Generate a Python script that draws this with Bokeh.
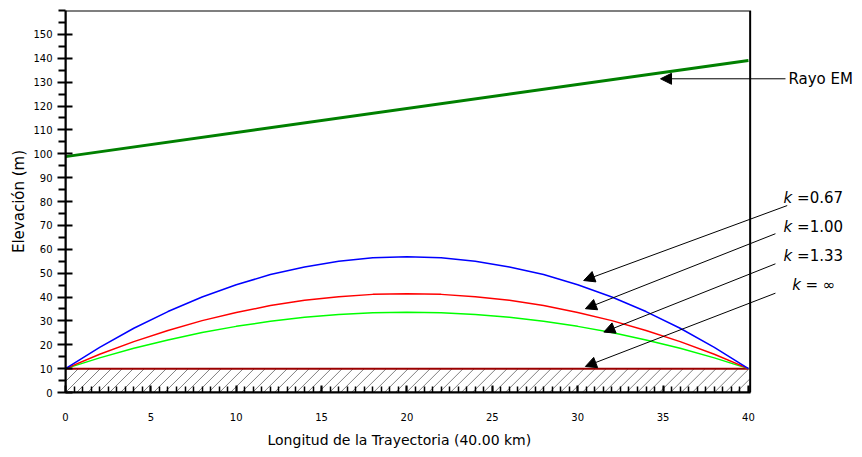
from bokeh.plotting import figure
from bokeh.models import (Range1d, FixedTicker, Label, Arrow, NormalHead,
                          BoxAnnotation, Title)
from bokeh.embed import file_html
from bokeh.resources import INLINE

# ---------------- data ----------------
dist_km = [0, 2, 4, 6, 8, 10, 12, 14, 16, 18, 20, 22, 24, 26, 28, 30, 32, 34, 36, 38, 40]
elev_k067 = [10.0, 18.9, 26.9, 33.9, 40.0, 45.1, 49.4, 52.6, 55.0, 56.4, 56.9,
             56.4, 55.0, 52.6, 49.4, 45.1, 40.0, 33.9, 26.9, 18.9, 10.0]
elev_k100 = [10.0, 16.0, 21.3, 26.0, 30.1, 33.5, 36.4, 38.6, 40.1, 41.1, 41.4,
             41.1, 40.1, 38.6, 36.4, 33.5, 30.1, 26.0, 21.3, 16.0, 10.0]
elev_k133 = [10.0, 14.5, 18.5, 22.0, 25.1, 27.7, 29.8, 31.5, 32.7, 33.4, 33.6,
             33.4, 32.7, 31.5, 29.8, 27.7, 25.1, 22.0, 18.5, 14.5, 10.0]
ground_x = [0, 40]
ground_y = [10, 10]
rayo_x = [0, 40]
rayo_y = [98.8, 139.1]

x_tick_values = [0, 5, 10, 15, 20, 25, 30, 35, 40]
y_tick_values = [0, 10, 20, 30, 40, 50, 60, 70, 80, 90, 100, 110, 120, 130, 140, 150]

k_labels = ["=0.67", "=1.00", "=1.33", "= \u221e"]

# ---------------- layout constants ----------------
X_BORDER = 40.1      # right border of the chart box
Y_TOP = 160
X_END = 46.68        # extra room on the right for the callouts
FONT = "DejaVu Sans"

p = figure(width=862, height=457,
           x_range=Range1d(0, X_END), y_range=Range1d(0, Y_TOP),
           output_backend="svg", toolbar_location=None,
           min_border_left=65, min_border_right=0,
           min_border_top=10, min_border_bottom=65)
p.outline_line_color = None
p.grid.visible = False
p.background_fill_color = "white"
p.border_fill_color = "white"

# ---------------- axes ----------------
xa = p.xaxis[0]
xa.ticker = FixedTicker(ticks=x_tick_values,
                        minor_ticks=[i * 0.5 for i in range(1, 81)])
xa.bounds = (0, X_BORDER)
xa.axis_line_width = 2
xa.axis_line_color = "black"
xa.major_tick_in = 7
xa.major_tick_out = 0
xa.minor_tick_in = 6
xa.minor_tick_out = 0
xa.major_tick_line_width = 2
xa.minor_tick_line_width = 1.5
xa.major_tick_line_color = "black"
xa.minor_tick_line_color = "black"
xa.major_label_standoff = 20
xa.major_label_text_font = FONT
xa.major_label_text_font_size = "10px"
xa.major_label_text_color = "black"

ya = p.yaxis[0]
ya.ticker = FixedTicker(ticks=y_tick_values,
                        minor_ticks=[5 + 10 * i for i in range(16)] + [160])
ya.bounds = (0, Y_TOP)
ya.axis_line_width = 2
ya.axis_line_color = "black"
ya.major_tick_in = 7
ya.major_tick_out = 8
ya.minor_tick_in = 0
ya.minor_tick_out = 7
ya.major_tick_line_width = 2
ya.minor_tick_line_width = 2
ya.major_tick_line_color = "black"
ya.minor_tick_line_color = "black"
ya.major_label_standoff = 5
ya.major_label_text_font = FONT
ya.major_label_text_font_size = "10px"
ya.major_label_text_color = "black"
ya.axis_label = "Elevación (m)"
ya.axis_label_text_font = FONT
ya.axis_label_text_font_size = "15px"
ya.axis_label_text_font_style = "normal"
ya.axis_label_text_color = "black"
ya.axis_label_standoff = 2

# x-axis title, placed under the chart box
p.add_layout(Title(text="Longitud de la Trayectoria (40.00 km)", align="left",
                   offset=202, text_font=FONT, text_font_size="14px",
                   text_font_style="normal", text_color="black",
                   standoff=12), "below")

# chart box
p.add_layout(BoxAnnotation(left=0, right=X_BORDER, bottom=0, top=Y_TOP,
                           fill_alpha=0, line_color="black", line_alpha=1,
                           line_width=2))

# ---------------- ground hatching (45 degree strokes under the k=inf line) ----------------
HATCH_STEP = 0.644   # horizontal spacing of the strokes (km)
HATCH_RUN = 1.398    # horizontal run of one stroke across the 10 m band (km)
ground_level = ground_y[0]
hx0, hy0, hx1, hy1 = [], [], [], []
k = -3
while k * HATCH_STEP < X_BORDER:
    xb = k * HATCH_STEP
    xs, ys = xb, 0.0
    if xb < 0:
        xs, ys = 0.0, -xb / HATCH_RUN * ground_level
    xe, ye = xb + HATCH_RUN, ground_level
    if xe > X_BORDER:
        xe, ye = X_BORDER, (X_BORDER - xb) / HATCH_RUN * ground_level
    if ys < ground_level and ye > 0:
        hx0.append(xs); hy0.append(ys); hx1.append(xe); hy1.append(ye)
    k += 1
p.segment(x0=hx0, y0=hy0, x1=hx1, y1=hy1, line_color="#808080", line_width=1)

# ---------------- curves ----------------
p.line(ground_x, ground_y, line_color="#9b0000", line_width=2)
p.line(dist_km, elev_k133, line_color="#00ff00", line_width=1.5)
p.line(dist_km, elev_k100, line_color="#ff0000", line_width=1.5)
p.line(dist_km, elev_k067, line_color="#0000ff", line_width=1.5)
p.line(rayo_x, rayo_y, line_color="#008000", line_width=3)

# ---------------- callouts ----------------
arrow_x0 = [42.17, 42.27, 41.58, 41.58, 41.58]
arrow_y0 = [131.4, 78.3, 66.5, 53.9, 41.6]
arrow_x1 = [34.85, 30.35, 30.45, 31.53, 30.45]
arrow_y1 = [131.4, 46.9, 35.1, 25.3, 10.9]
for x0, y0, x1, y1 in zip(arrow_x0, arrow_y0, arrow_x1, arrow_y1):
    p.add_layout(Arrow(end=NormalHead(size=11, fill_color="black",
                                      line_color="black", line_width=1),
                       x_start=x0, y_start=y0, x_end=x1, y_end=y1,
                       line_color="black", line_width=1))

p.add_layout(Label(x=42.34, y=131.4, text="Rayo EM", text_baseline="middle",
                   text_font=FONT, text_font_size="15px",
                   text_color="black"))

k_y = [81.55, 69.2, 57.1, 45.2]
k_x = [42.05, 42.05, 42.05, 42.56]
eq_x = [42.85, 42.85, 42.85, 43.34]
for kx, ex, ky, txt in zip(k_x, eq_x, k_y, k_labels):
    p.add_layout(Label(x=kx, y=ky, text="k", text_baseline="middle",
                       text_font=FONT, text_font_size="15px",
                       text_font_style="italic", text_color="black"))
    p.add_layout(Label(x=ex, y=ky, text=txt, text_baseline="middle",
                       text_font=FONT, text_font_size="15px",
                       text_color="black"))

open("out.html", "w").write(file_html(p, INLINE))
